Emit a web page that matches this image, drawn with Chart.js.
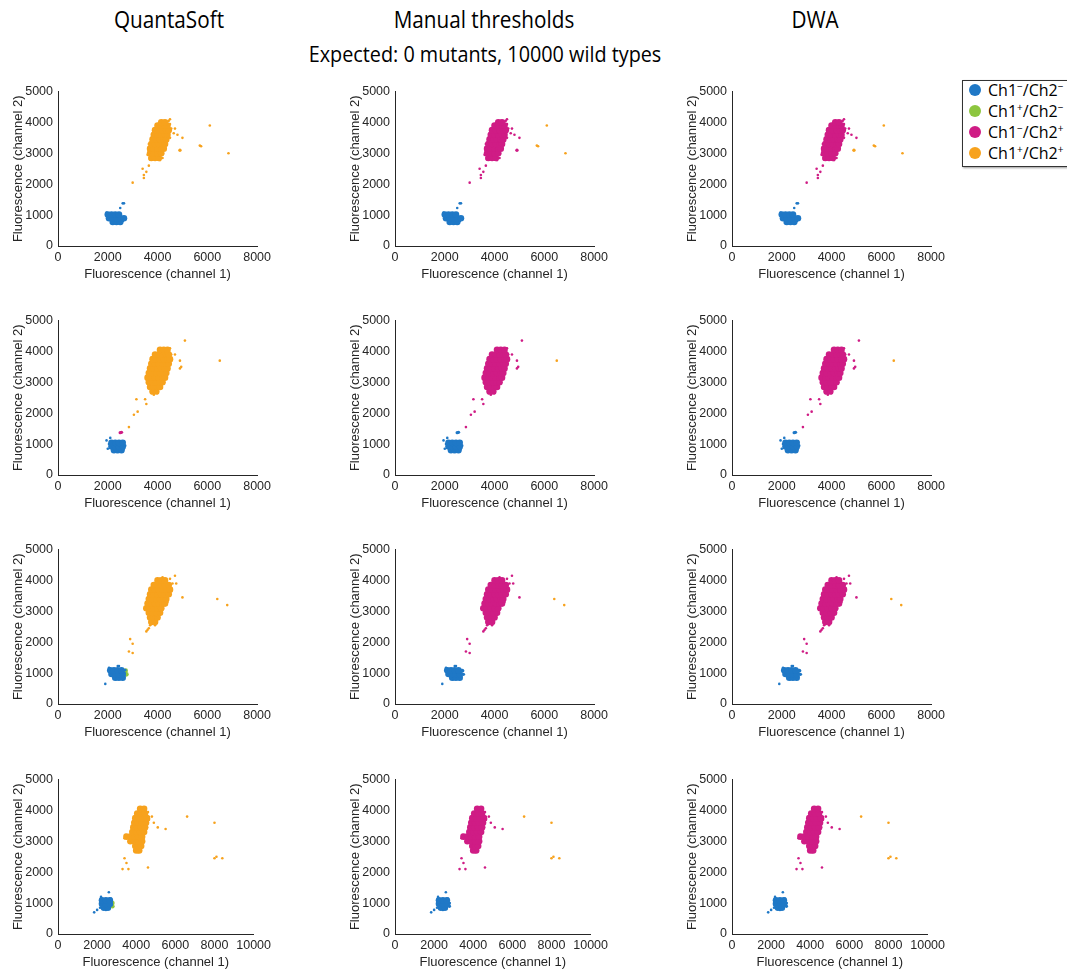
<!DOCTYPE html>
<html>
<head>
<meta charset="utf-8">
<title>ddPCR clustering comparison</title>
<script src="https://cdn.jsdelivr.net/npm/chart.js@4.4.0/dist/chart.umd.min.js"></script>
<style>
  body { margin: 0; width: 1067px; height: 970px; overflow: hidden; background: #fff; position: relative; font-family: "Open Sans", sans-serif; }
  .head { position: absolute; color: #000; white-space: nowrap; transform: translateX(-50%) scaleX(0.9); }
  canvas { position: absolute; }
  #legend { position: absolute; left: 962px; top: 80px; width: 110px; height: 85px; border: 1px solid #333; box-shadow: 1px 1px 2px #999; background: #fff; font-family: "Open Sans", sans-serif; font-size: 16px; color: #000; }
  #legend .item { position: absolute; left: 6px; height: 20px; line-height: 20px; white-space: nowrap; }
  #legend .dot { display: inline-block; width: 12px; height: 12px; border-radius: 50%; vertical-align: middle; margin-right: 7px; margin-top: -3px; }
  #legend sup { font-size: 10px; line-height: 0; }
</style>
</head>
<body>
<div class="head" style="left:169px; top:3px; font-size:23px;">QuantaSoft</div>
<div class="head" style="left:484px; top:3px; font-size:23px;">Manual thresholds</div>
<div class="head" style="left:815px; top:3px; font-size:23px;">DWA</div>
<div class="head" style="left:485px; top:38px; font-size:22px;">Expected: 0 mutants, 10000 wild types</div>
<div id="legend"></div>

<script>
// column / row setup
const methods = ["QuantaSoft", "Manual thresholds", "DWA"];
const xMax = [8000, 8000, 8000, 10000];
const xStep = 2000;
const yMax = 5000;
const yStep = 1000;

const colors = { blue: "#1f78c6", green: "#8dc63f", magenta: "#cf1c85", orange: "#f7a21d" };
const legendKeys = ["blue", "green", "magenta", "orange"];
const legendLabels = ["Ch1<sup>−</sup>/Ch2<sup>−</sup>", "Ch1<sup>+</sup>/Ch2<sup>−</sup>", "Ch1<sup>−</sup>/Ch2<sup>+</sup>", "Ch1<sup>+</sup>/Ch2<sup>+</sup>"];

// class of the main positive cluster in each column
const posClass = ["orange", "magenta", "magenta"];

// ---- row 1 ----
const row1Neg = [[2200,780],[2350,780],[2500,780],[2050,900],[2200,900],[2350,900],[2500,900],[2650,900],[2000,1020],[2150,1020],[2300,1020],[2450,1020]];
const row1NegStray = [[1950,1080],[2500,1230],[2600,1380],[2650,1380],[2700,870],[2300,740],[1950,1000],[2600,800]];
const row1Pos = [
  [3750,2850],[3900,2850],[4050,2850],
  [3700,3000],[3850,3000],[4000,3000],[4150,3000],
  [3700,3150],[3850,3150],[4000,3150],[4150,3150],[4250,3150],
  [3750,3300],[3900,3300],[4050,3300],[4200,3300],[4300,3300],
  [3800,3450],[3950,3450],[4100,3450],[4250,3450],[4350,3450],
  [3850,3600],[4000,3600],[4150,3600],[4300,3600],[4400,3600],
  [3900,3750],[4050,3750],[4200,3750],[4350,3750],[4450,3750],
  [4000,3900],[4150,3900],[4300,3900],[4400,3900],
  [4150,4000],[4300,4000]
];
const row1PosStray = [[3000,2050],[3400,2500],[3450,2300],[3450,2200],[3550,2400],[3650,2600],[4700,3800],[4800,3600],[5000,3500],[4500,4100],[4650,3650],
  [3600,2950],[3650,3100],[3700,2800],[4100,2780],[4500,3500],[4550,3800],[4500,3950],[4450,4050],[3650,3300],[4200,2850]];
const row1Far = [[5700,3250],[5750,3230],[6100,3900],[6850,3000]];
const row1Special = [[4900,3100]];
const row1SpecialClass = ["orange", "magenta", "orange"];

// ---- row 2 ----
const row2Neg = [[2250,800],[2400,800],[2550,800],[2150,920],[2300,920],[2450,920],[2600,920],[2150,1040],[2300,1040],[2450,1040],[2600,1040]];
const row2NegStray = [[1950,1120],[2100,1200],[2700,950],[2000,850],[2350,750],[2050,1000],[2650,850]];
const row2Pos = [
  [3800,2700],[3950,2700],
  [3700,2850],[3850,2850],[4000,2850],[4100,2850],
  [3650,3000],[3800,3000],[3950,3000],[4100,3000],[4200,3000],
  [3600,3150],[3750,3150],[3900,3150],[4050,3150],[4200,3150],[4300,3150],
  [3650,3300],[3800,3300],[3950,3300],[4100,3300],[4250,3300],[4350,3300],
  [3700,3450],[3850,3450],[4000,3450],[4150,3450],[4300,3450],[4400,3450],
  [3750,3600],[3900,3600],[4050,3600],[4200,3600],[4350,3600],[4450,3600],
  [3800,3750],[3950,3750],[4100,3750],[4250,3750],[4400,3750],[4500,3750],
  [3900,3900],[4050,3900],[4200,3900],[4350,3900],[4450,3900],
  [4100,4050],[4250,4050],[4400,4050]
];
const row2PosStray = [[3150,2450],[3500,2450],[3550,2300],[3200,2050],[3050,1950],[2850,1550],[4900,3700],[4950,3500],[4900,3450],[4700,3900],[5100,4350],
  [3550,3100],[3600,3300],[3750,2650],[4000,2650],[4550,3700],[4550,3900],[4500,4100],[4300,4100],[3850,2600]];
const row2Far = [[6500,3700]];
const row2Special = [[2550,1380],[2500,1370]];
const row2SpecialClass = ["magenta", "blue", "blue"];

// ---- row 3 ----
const row3Neg = [[2300,850],[2450,850],[2600,850],[2150,970],[2300,970],[2450,970],[2600,970],[2100,1090],[2250,1090],[2400,1090],[2550,1090]];
const row3NegStray = [[1900,650],[2400,1230],[2450,1230],[2050,1170],[2700,1100],[2350,800],[2650,900],[2050,1050]];
const row3Pos = [
  [3750,2650],[3900,2650],
  [3700,2800],[3850,2800],[4000,2800],
  [3650,2950],[3800,2950],[3950,2950],[4100,2950],
  [3550,3100],[3700,3100],[3850,3100],[4000,3100],[4150,3100],
  [3600,3250],[3750,3250],[3900,3250],[4050,3250],[4200,3250],[4300,3250],
  [3650,3400],[3800,3400],[3950,3400],[4100,3400],[4250,3400],[4350,3400],
  [3700,3550],[3850,3550],[4000,3550],[4150,3550],[4300,3550],[4450,3550],
  [3750,3700],[3900,3700],[4050,3700],[4200,3700],[4350,3700],[4500,3700],
  [3850,3850],[4000,3850],[4150,3850],[4300,3850],[4450,3850],
  [4000,4000],[4150,4000],[4300,4000]
];
const row3PosStray = [[2900,2100],[3000,1950],[2850,1700],[3000,1650],[3600,2400],[3650,2450],[3550,2350],[4700,4150],[4750,3900],[5000,3450],
  [3500,3050],[3550,3200],[3700,2550],[3900,2550],[4550,3750],[4600,3900],[4500,4050],[4200,4100],[4400,3300]];
const row3Far = [[6400,3400],[6800,3200]];
const row3Special = [[2750,960],[2720,1080]];
const row3SpecialClass = ["green", "blue", "blue"];

// ---- row 4 ----
const row4Neg = [[2350,850],[2550,850],[2250,970],[2450,970],[2650,970],[2250,1090],[2450,1090],[2650,1090]];
const row4NegStray = [[1850,700],[2000,780],[2150,850],[2600,1350],[2200,1200],[2700,1150],[2450,780],[2150,1000]];
const row4Pos = [
  [4000,2700],[4150,2700],
  [3950,2850],[4100,2850],[4250,2850],
  [3700,3000],[3900,3000],[4100,3000],[4300,3000],
  [3500,3150],[3700,3150],[3900,3150],[4100,3150],[4300,3150],
  [3800,3300],[4000,3300],[4200,3300],[4400,3300],
  [3850,3450],[4050,3450],[4250,3450],[4450,3450],
  [3900,3600],[4100,3600],[4300,3600],[4500,3600],
  [3950,3750],[4150,3750],[4350,3750],[4550,3750],
  [4050,3900],[4250,3900],[4450,3900],
  [4200,4050],[4400,4050]
];
const row4PosStray = [[3400,2450],[3300,2100],[3600,2100],[3500,2300],[4600,2150],[4800,3800],[4900,3600],[5100,3450],[5500,3400],
  [3400,3100],[3450,3200],[4650,3700],[4600,3950],[4450,4100],[4100,2650],[3900,2700],[4550,3450]];
const row4Far = [[6600,3800],[8000,3600],[8100,2500],[8000,2450],[8400,2450]];
const row4Special = [[2780,900],[2780,1000],[2740,950]];
const row4SpecialClass = ["green", "blue", "blue"];

const rows = [
  { neg: row1Neg, negStray: row1NegStray, pos: row1Pos, posStray: row1PosStray, far: row1Far, special: row1Special, specialClass: row1SpecialClass },
  { neg: row2Neg, negStray: row2NegStray, pos: row2Pos, posStray: row2PosStray, far: row2Far, special: row2Special, specialClass: row2SpecialClass },
  { neg: row3Neg, negStray: row3NegStray, pos: row3Pos, posStray: row3PosStray, far: row3Far, special: row3Special, specialClass: row3SpecialClass },
  { neg: row4Neg, negStray: row4NegStray, pos: row4Pos, posStray: row4PosStray, far: row4Far, special: row4Special, specialClass: row4SpecialClass }
];

// panel placement (plot area)
const colLeft = [58, 395, 732];
const rowTop = [89, 318, 547, 777];
const plotW = 202, plotH = 157;
const yAxisW = 58, xAxisH = 40, padTop = 10, padRight = 15;

const blobR = 3.3, dotR = 1.3;
const axisColor = "#262626";

function ds(points, color, r) {
  return {
    data: points.map(p => ({ x: p[0], y: p[1] })),
    backgroundColor: color,
    borderWidth: 0,
    pointRadius: r,
    pointHoverRadius: r
  };
}

function drawPanel(r, c) {
  const row = rows[r];
  const canvas = document.createElement("canvas");
  canvas.width = yAxisW + plotW + padRight;
  canvas.height = padTop + plotH + xAxisH;
  canvas.style.left = (colLeft[c] - yAxisW) + "px";
  canvas.style.top = (rowTop[r] - padTop) + "px";
  document.body.appendChild(canvas);

  // the odd points that each method classes differently
  const specialColor = colors[row.specialClass[c]];
  const specialR = row.specialClass[c] === "green" ? 2.3 : dotR + 0.4;

  const datasets = [
    ds(row.neg, colors.blue, blobR),
    ds(row.negStray, colors.blue, dotR),
    ds(row.pos, colors[posClass[c]], blobR),
    ds(row.posStray, colors[posClass[c]], dotR),
    ds(row.far, colors.orange, dotR),
    ds(row.special, specialColor, specialR)
  ];

  new Chart(canvas.getContext("2d"), {
    type: "scatter",
    data: { datasets: datasets },
    options: {
      responsive: false,
      animation: false,
      layout: { padding: { top: padTop, right: padRight, left: 0, bottom: 0 } },
      plugins: { legend: { display: false }, tooltip: { enabled: false } },
      scales: {
        x: {
          type: "linear", min: 0, max: xMax[r],
          ticks: { stepSize: xStep, color: axisColor, padding: 4, maxRotation: 0, font: { family: "Liberation Sans", size: 12.5 }, callback: v => String(v) },
          grid: { drawOnChartArea: false, drawTicks: false },
          border: { color: axisColor, width: 1 },
          title: { display: true, text: "Fluorescence (channel 1)", color: axisColor, font: { family: "Liberation Sans", size: 13 }, padding: { top: 0, bottom: 4 } },
          afterFit: s => { s.height = xAxisH; }
        },
        y: {
          type: "linear", min: 0, max: yMax,
          ticks: { stepSize: yStep, color: axisColor, padding: 5, font: { family: "Liberation Sans", size: 12.5 }, callback: v => String(v) },
          grid: { drawOnChartArea: false, drawTicks: false },
          border: { color: axisColor, width: 1 },
          title: { display: true, text: "Fluorescence (channel 2)", color: axisColor, font: { family: "Liberation Sans", size: 13 }, padding: { top: 11, bottom: 0 } },
          afterFit: s => { s.width = yAxisW; }
        }
      }
    }
  });
}

for (let r = 0; r < rows.length; r++) {
  for (let c = 0; c < methods.length; c++) {
    drawPanel(r, c);
  }
}

// legend box
const legend = document.getElementById("legend");
legendKeys.forEach((k, i) => {
  const item = document.createElement("div");
  item.className = "item";
  item.style.top = (i * 21 - 1) + "px";
  item.innerHTML = `<span class="dot" style="background:${colors[k]}"></span>${legendLabels[i]}`;
  legend.appendChild(item);
});
</script>
</body>
</html>
